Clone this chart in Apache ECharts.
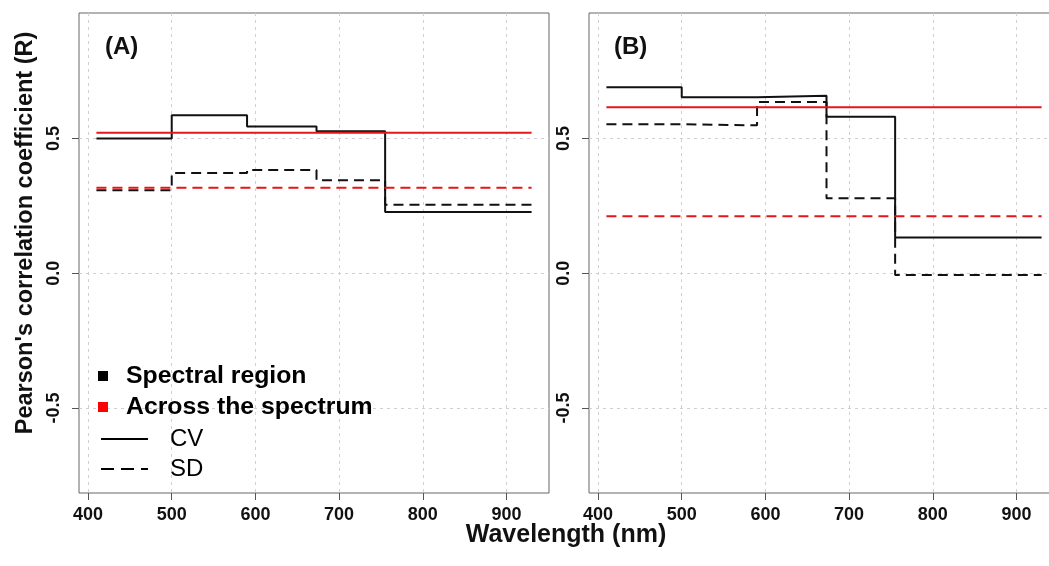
<!DOCTYPE html>
<html>
<head>
<meta charset="utf-8">
<script src="https://cdn.jsdelivr.net/npm/echarts@6/dist/echarts.min.js"></script>
<style>html,body{margin:0;padding:0;background:#fff;}#c{width:1049px;height:566px;}</style>
</head>
<body>
<div id="c"></div>
<script>
// ---- data ----
var bandStart = [410, 500, 590, 673, 755];
var bandEnd   = [500, 590, 673, 755, 930];
var A_CV = [0.500, 0.586, 0.545, 0.527, 0.227];
var A_SD = [0.308, 0.372, 0.383, 0.345, 0.254];
var A_CV_all = 0.521;
var A_SD_all = 0.317;
var B_CV = [0.690, 0.653, 0.659, 0.581, 0.133];
var B_SD = [0.553, 0.549, 0.636, 0.278, -0.007];
var B_CV_all = 0.616;
var B_SD_all = 0.211;
var xTicks = [400, 500, 600, 700, 800, 900];
var yTicks = [-0.5, 0.0, 0.5];
var xRange = [389.2, 950.8];
var yRange = [-0.816, 0.966];

function stepPts(vals) {
  var pts = [];
  for (var i = 0; i < vals.length; i++) {
    pts.push([bandStart[i], vals[i]]);
    pts.push([bandEnd[i], vals[i]]);
  }
  return pts;
}
function flatPts(v) { return [[bandStart[0], v], [bandEnd[bandEnd.length - 1], v]]; }

var FONT = '"Liberation Sans", Arial, sans-serif';
var RED = '#e5161d';
var DASH = [10, 6];

function mkX(idx) {
  return {
    type: 'value', gridIndex: idx, min: xRange[0], max: xRange[1],
    axisLine: { show: false, onZero: false },
    axisTick: { show: true, length: 7, lineStyle: { color: '#555' }, customValues: xTicks },
    axisLabel: { customValues: xTicks, margin: 13, color: '#111', fontFamily: FONT, fontWeight: 'bold', fontSize: 18 },
    splitLine: { show: true, lineStyle: { color: '#d0d0d0', type: [3, 4], width: 1 } }
  };
}
function mkY(idx) {
  return {
    type: 'value', gridIndex: idx, min: yRange[0], max: yRange[1],
    axisLine: { show: false, onZero: false },
    axisTick: { show: true, length: 7, lineStyle: { color: '#555' }, customValues: yTicks },
    axisLabel: { customValues: yTicks, rotate: 90, margin: 16, color: '#111', fontFamily: FONT, fontWeight: 'bold', fontSize: 18,
      formatter: function (v) { return v.toFixed(1); } },
    splitLine: { show: true, lineStyle: { color: '#d0d0d0', type: [3, 4], width: 1 } }
  };
}
function ser(idx, data, color, dashed, z) {
  return {
    type: 'line', xAxisIndex: idx, yAxisIndex: idx, data: data, showSymbol: false, symbol: 'none',
    animation: false, z: z,
    lineStyle: { color: color, width: 2, type: dashed ? DASH : 'solid' }
  };
}

var chart = echarts.init(document.getElementById('c'), null, { renderer: 'canvas' });
chart.setOption({
  backgroundColor: '#fff',
  animation: false,
  grid: [
    { left: 79, top: 13, width: 470, height: 480, show: true, borderColor: '#666', borderWidth: 1, backgroundColor: 'transparent', outerBoundsMode: 'none', containLabel: false },
    { left: 589, top: 13, width: 470, height: 480, show: true, borderColor: '#666', borderWidth: 1, backgroundColor: 'transparent', outerBoundsMode: 'none', containLabel: false }
  ],
  xAxis: [mkX(0), mkX(1)],
  yAxis: [mkY(0), mkY(1)],
  series: [
    ser(0, stepPts(A_SD), '#111', true, 3),
    ser(0, stepPts(A_CV), '#111', false, 3),
    ser(0, flatPts(A_SD_all), RED, true, 4),
    ser(0, flatPts(A_CV_all), RED, false, 4),
    ser(1, stepPts(B_SD), '#111', true, 3),
    ser(1, stepPts(B_CV), '#111', false, 3),
    ser(1, flatPts(B_SD_all), RED, true, 4),
    ser(1, flatPts(B_CV_all), RED, false, 4)
  ],
  graphic: [
    { type: 'text', x: 26, y: 233, rotation: Math.PI / 2, style: { text: "Pearson's correlation coefficient (R)", fill: '#111', font: 'bold 23.5px ' + FONT, textAlign: 'center', textVerticalAlign: 'middle' } },
    { type: 'text', x: 566, y: 535, style: { text: 'Wavelength (nm)', fill: '#111', font: 'bold 25px ' + FONT, textAlign: 'center', textVerticalAlign: 'middle' } },
    { type: 'text', x: 105, y: 47, style: { text: '(A)', fill: '#111', font: 'bold 24px ' + FONT, textAlign: 'left', textVerticalAlign: 'middle' } },
    { type: 'text', x: 614, y: 47, style: { text: '(B)', fill: '#111', font: 'bold 24px ' + FONT, textAlign: 'left', textVerticalAlign: 'middle' } },
    // legend
    { type: 'rect', shape: { x: 98, y: 371, width: 10, height: 10 }, style: { fill: '#000' }, z: 10 },
    { type: 'rect', shape: { x: 98, y: 402, width: 10, height: 10 }, style: { fill: '#ff0000' }, z: 10 },
    { type: 'text', x: 126, y: 376, style: { text: 'Spectral region', fill: '#000', font: 'bold 24.8px ' + FONT, textAlign: 'left', textVerticalAlign: 'middle' }, z: 10 },
    { type: 'text', x: 126, y: 407, style: { text: 'Across the spectrum', fill: '#000', font: 'bold 24.8px ' + FONT, textAlign: 'left', textVerticalAlign: 'middle' }, z: 10 },
    { type: 'line', shape: { x1: 101, y1: 439, x2: 148, y2: 439 }, style: { stroke: '#000', lineWidth: 2 }, z: 10 },
    { type: 'line', shape: { x1: 101, y1: 469, x2: 148, y2: 469 }, style: { stroke: '#000', lineWidth: 2, lineDash: [13, 7] }, z: 10 },
    { type: 'text', x: 170, y: 439, style: { text: 'CV', fill: '#000', font: '24px ' + FONT, textAlign: 'left', textVerticalAlign: 'middle' }, z: 10 },
    { type: 'text', x: 170, y: 469, style: { text: 'SD', fill: '#000', font: '24px ' + FONT, textAlign: 'left', textVerticalAlign: 'middle' }, z: 10 }
  ]
});
</script>
</body>
</html>
